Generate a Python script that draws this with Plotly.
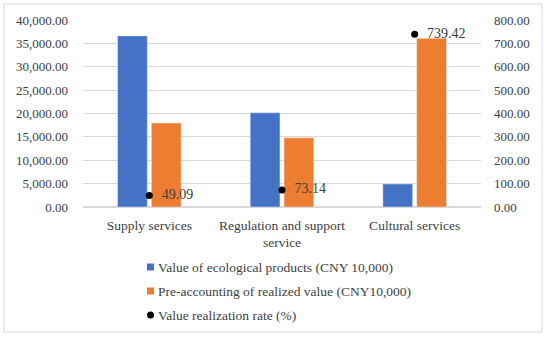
import plotly.graph_objects as go

categories = ["Supply services", "Regulation and support<br>service", "Cultural services"]
eco_values = [36600, 20150, 4930]
realized_values = [17980, 14800, 36100]
rate_values = [49.09, 73.14, 739.42]
rate_labels = ["  49.09", "  73.14", "  739.42"]
legend_names = ["Value of ecological products (CNY 10,000)",
                "Pre-accounting of realized value (CNY10,000)",
                "Value realization rate (%)"]

FONT = "Liberation Serif, Times New Roman, serif"
TXT = "#404040"
BLUE = "#4472C4"
ORANGE = "#ED7D31"

# plot-area geometry (pixels)
L, R, T, B = 83, 481, 20, 207
W, H = R - L, B - T


def px(x):
    return (x - L) / W


def py(y):
    return (B - y) / H


fig = go.Figure()
fig.add_trace(go.Bar(x=categories, y=eco_values, name=legend_names[0], marker_color=BLUE))
fig.add_trace(go.Bar(x=categories, y=realized_values, name=legend_names[1], marker_color=ORANGE))
fig.add_trace(go.Scatter(x=categories, y=rate_values, yaxis="y2", mode="markers+text",
                         text=rate_labels, textposition="middle right",
                         textfont=dict(family=FONT, size=14, color=TXT),
                         marker=dict(color="black", size=7), name=legend_names[2]))

shapes = [dict(type="rect", xref="paper", yref="paper",
               x0=px(4), x1=px(542), y0=py(332), y1=py(4),
               line=dict(color="#D9D9D9", width=1), fillcolor="rgba(0,0,0,0)", layer="below")]
annotations = []
legend_rows = [267, 291, 315]
legend_colors = [BLUE, ORANGE, "black"]
for i, (name, yc, col) in enumerate(zip(legend_names, legend_rows, legend_colors)):
    if i < 2:
        shapes.append(dict(type="rect", xref="paper", yref="paper",
                           x0=px(147), x1=px(154), y0=py(yc + 3.5), y1=py(yc - 3.5),
                           line=dict(width=0), fillcolor=col))
    else:
        shapes.append(dict(type="circle", xref="paper", yref="paper",
                           x0=px(147), x1=px(154), y0=py(yc + 3.5), y1=py(yc - 3.5),
                           line=dict(width=0), fillcolor=col))
    annotations.append(dict(xref="paper", yref="paper", x=px(156), y=py(yc),
                            xanchor="left", yanchor="middle", text=name, showarrow=False,
                            font=dict(family=FONT, size=13.5, color=TXT)))

fig.update_layout(
    width=550, height=337,
    margin=dict(l=L, r=550 - R, t=T, b=337 - B, autoexpand=False),
    paper_bgcolor="white", plot_bgcolor="white",
    font=dict(family=FONT, size=13, color=TXT),
    barmode="group", bargap=0.49, bargroupgap=0.12,
    showlegend=False,
    hovermode=False,
    xaxis=dict(showgrid=False, showline=False, ticks="", automargin=False,
               tickfont=dict(family=FONT, size=13.5, color=TXT), ticklabelstandoff=8),
    yaxis=dict(range=[0, 40000], dtick=5000, tickformat=",.2f", showgrid=True, automargin=False,
               gridcolor="#D9D9D9", gridwidth=1, zeroline=True, zerolinecolor="#D9D9D9",
               showline=False, tickfont=dict(family=FONT, size=13, color=TXT), ticklabelstandoff=14),
    yaxis2=dict(range=[0, 800], dtick=100, tickformat=".2f", overlaying="y", side="right",
                showgrid=False, zeroline=False, showline=False, automargin=False,
                tickfont=dict(family=FONT, size=13, color=TXT), ticklabelstandoff=12),
    shapes=shapes,
    annotations=annotations,
)

fig.write_html("out.html", config={"displayModeBar": False},
               post_script="document.body.style.margin='0';")
